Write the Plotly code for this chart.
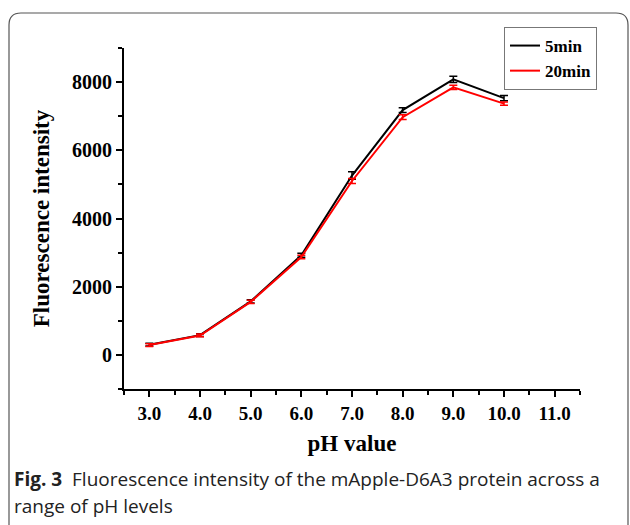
import plotly.graph_objects as go

ph = [3.0, 4.0, 5.0, 6.0, 7.0, 8.0, 9.0, 10.0]
min5 = [300, 580, 1570, 2920, 5260, 7180, 8080, 7530]
min5_err = [40, 40, 50, 60, 110, 70, 90, 80]
min20 = [290, 570, 1555, 2870, 5100, 6970, 7845, 7370]
min20_err = [40, 40, 50, 50, 70, 70, 60, 50]

x_ticks = [3, 4, 5, 6, 7, 8, 9, 10, 11]
x_labels = ["3.0", "4.0", "5.0", "6.0", "7.0", "8.0", "9.0", "10.0", "11.0"]
y_ticks = [0, 2000, 4000, 6000, 8000]

W, H = 630, 525
L, R, T, B = 124, 50, 48, 136
pw, ph_ = W - L - R, H - T - B

def px(x):
    return (x - L) / pw

def py(y):
    return (H - B - y) / ph_

serif = "Liberation Serif, Times New Roman, serif"
sans = "Open Sans, Noto Sans, sans-serif"

fig = go.Figure()
fig.add_trace(go.Scatter(
    x=ph, y=min5, name="5min", mode="lines",
    line=dict(color="black", width=2),
    error_y=dict(type="data", array=min5_err, color="black", thickness=1.5, width=4),
))
fig.add_trace(go.Scatter(
    x=ph, y=min20, name="20min", mode="lines",
    line=dict(color="#ff0000", width=2),
    error_y=dict(type="data", array=min20_err, color="#ff0000", thickness=1.5, width=4),
))

# rounded frame
x0, y0, x1, y1, r = 9, 13, 628, 540, 12
path = (f"M {px(x0)},{py(y0 + r)} L {px(x0)},{py(y1)} "
        f"M {px(x0)},{py(y0 + r)} Q {px(x0)},{py(y0)} {px(x0 + r)},{py(y0)} "
        f"L {px(x1 - r)},{py(y0)} Q {px(x1)},{py(y0)} {px(x1)},{py(y0 + r)} "
        f"L {px(x1)},{py(y1)}")
fig.add_shape(type="path", xref="paper", yref="paper", path=path,
              line=dict(color="#555555", width=1.2))

fig.add_annotation(
    xref="paper", yref="paper", x=px(12), y=py(479), xanchor="left", yanchor="middle",
    text="<b>Fig. 3</b>  Fluorescence intensity of the mApple-D6A3 protein across a",
    showarrow=False, font=dict(family=sans, size=19, color="#222222"),
)
fig.add_annotation(
    xref="paper", yref="paper", x=px(12), y=py(506), xanchor="left", yanchor="middle",
    text="range of pH levels",
    showarrow=False, font=dict(family=sans, size=19, color="#222222"),
)

fig.update_layout(
    width=W, height=H,
    margin=dict(l=L, r=R, t=T, b=B),
    paper_bgcolor="white", plot_bgcolor="white",
    showlegend=True,
    legend=dict(
        x=px(504), y=py(27), xanchor="left", yanchor="top",
        bordercolor="#777777", borderwidth=1, bgcolor="white",
        font=dict(family=serif, size=17, color="black", weight="bold"),
        tracegroupgap=0, itemwidth=30,
    ),
    xaxis=dict(
        range=[2.5, 11.5], tickvals=x_ticks, ticktext=x_labels,
        showline=True, linecolor="black", linewidth=2, showgrid=False, zeroline=False,
        ticks="outside", ticklen=6, tickwidth=2, tickcolor="black",
        minor=dict(dtick=0.5, ticks="outside", ticklen=4, tickwidth=1.5, tickcolor="black"),
        tickfont=dict(family=serif, size=19, color="black", weight="bold"),
        title=dict(text="pH value", font=dict(family=serif, size=23, color="black", weight="bold"), standoff=12),
    ),
    yaxis=dict(
        range=[-1000, 9000], tickvals=y_ticks,
        showline=True, linecolor="black", linewidth=2, showgrid=False, zeroline=False,
        ticks="outside", ticklen=6, tickwidth=2, tickcolor="black",
        minor=dict(dtick=1000, ticks="outside", ticklen=4, tickwidth=1.5, tickcolor="black"),
        tickfont=dict(family=serif, size=20, color="black", weight="bold"),
        title=dict(text="Fluorescence intensity", font=dict(family=serif, size=23, color="black", weight="bold"), standoff=16),
    ),
)

fig.write_html("out.html")
